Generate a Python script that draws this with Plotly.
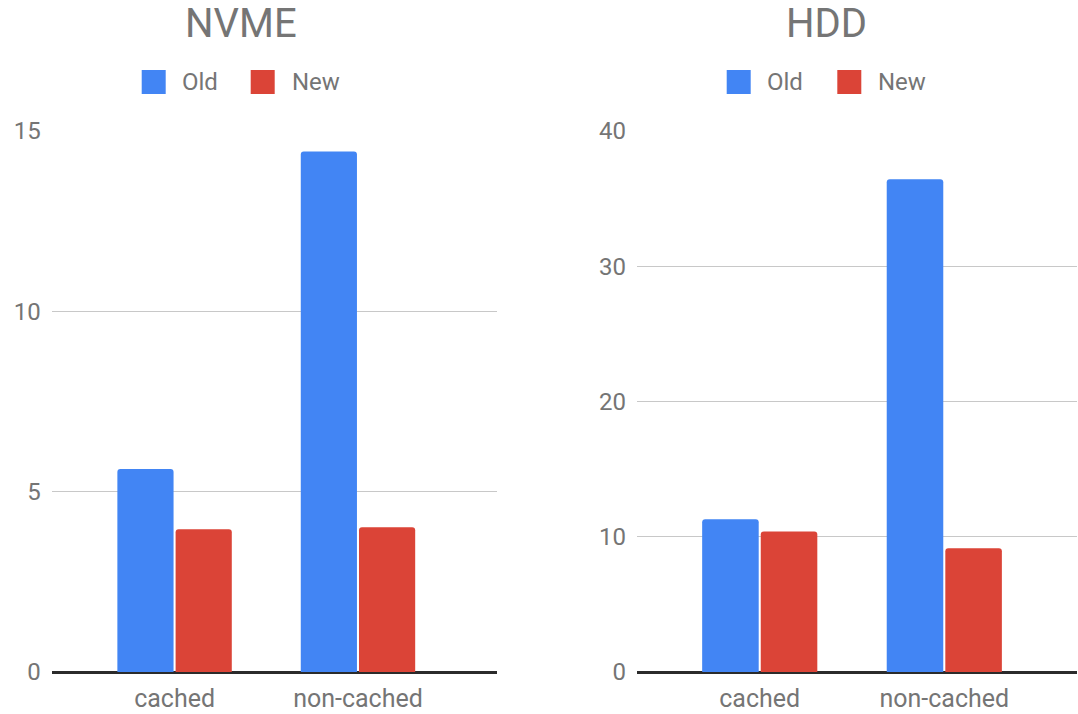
import plotly.graph_objects as go
from plotly.subplots import make_subplots

# Benchmark timings (old vs new implementation)
categories = ["cached", "non-cached"]
series_names = ["Old", "New"]
nvme_old = [5.63, 14.43]
nvme_new = [3.96, 4.01]
hdd_old = [11.3, 36.44]
hdd_new = [10.38, 9.15]
nvme_ticks = [0, 5, 10, 15]
hdd_ticks = [0, 10, 20, 30, 40]

BLUE = "#4285F4"
RED = "#DB4437"
TEXT = "#757575"
FONT = "Roboto"

W, H = 1078, 714
M_TOP, M_BOT = 131, 42
PLOT_H = H - M_TOP - M_BOT


def px_x(px):
    return px / W


def px_y(py):
    return (H - M_BOT - py) / PLOT_H


fig = make_subplots(rows=1, cols=2, horizontal_spacing=0.1)

colors = [BLUE, RED]
for col, (old, new) in enumerate([(nvme_old, nvme_new), (hdd_old, hdd_new)], start=1):
    for name, vals, c in zip(series_names, [old, new], colors):
        fig.add_trace(
            go.Bar(x=categories, y=vals, name=name, marker_color=c,
                   marker_line_width=0, showlegend=False),
            row=1, col=col,
        )

fig.update_layout(
    width=W, height=H,
    margin=dict(l=0, r=0, t=M_TOP, b=M_BOT),
    paper_bgcolor="white", plot_bgcolor="white",
    barmode="group", bargap=0.365, bargroupgap=0.035,
    barcornerradius=3,
    font=dict(family=FONT, color=TEXT, size=22),
    xaxis=dict(domain=[px_x(51.7), px_x(497)], range=[-0.67, 1.758]),
    xaxis2=dict(domain=[px_x(637), px_x(1077)], range=[-0.665, 1.719]),
    yaxis=dict(range=[0, 15], tickvals=nvme_ticks),
    yaxis2=dict(range=[0, 40], tickvals=hdd_ticks),
)

fig.update_xaxes(showgrid=False, showline=False, zeroline=False,
                 ticks="", ticklabelstandoff=9,
                 tickfont=dict(size=25, color=TEXT, family=FONT))
fig.update_yaxes(showgrid=True, gridcolor="#c8c8c8", gridwidth=1,
                 zeroline=True, zerolinecolor="#2b2b2b", zerolinewidth=2.5,
                 showline=False, ticks="", ticklabelstandoff=10,
                 tickfont=dict(size=24, color=TEXT, family=FONT))

# Chart titles
for label, cx in [("NVME", 240.5), ("HDD", 826.7)]:
    fig.add_annotation(x=px_x(cx), y=px_y(24), xref="paper", yref="paper",
                       text=label, showarrow=False, xanchor="center",
                       yanchor="middle", font=dict(size=40, color=TEXT, family=FONT))

# Legend keys above each chart
legend_rows = [
    [(141.7, 183, "Old", BLUE), (250.7, 293, "New", RED)],
    [(726.7, 768.3, "Old", BLUE), (837.3, 879.3, "New", RED)],
]
for row in legend_rows:
    for sx, tx, label, c in row:
        fig.add_shape(type="rect", xref="paper", yref="paper",
                      x0=px_x(sx), x1=px_x(sx + 24), y0=px_y(94), y1=px_y(70),
                      fillcolor=c, line=dict(width=0))
        fig.add_annotation(x=px_x(tx - 3), y=px_y(82), xref="paper", yref="paper",
                           text=label, showarrow=False, xanchor="left",
                           yanchor="middle", font=dict(size=24, color=TEXT, family=FONT))

fig.write_html("out.html")
